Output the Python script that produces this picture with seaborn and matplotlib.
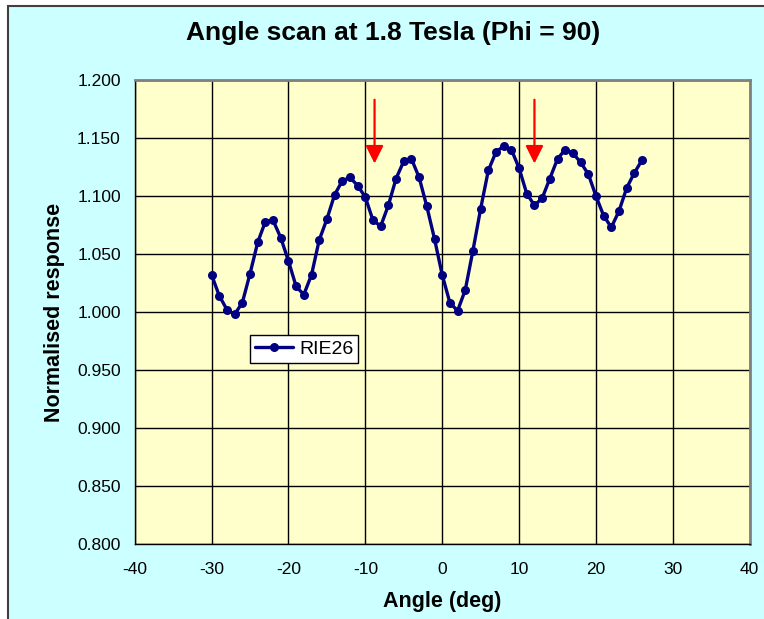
import numpy as np
import pandas as pd
import seaborn as sns
import matplotlib.pyplot as plt
from matplotlib.patches import Rectangle

# Angle scan data
angle = list(range(-30, 27))
response = [1.032, 1.014, 1.002, 0.998, 1.008, 1.033, 1.060, 1.078, 1.079, 1.064,
            1.044, 1.022, 1.015, 1.032, 1.062, 1.080, 1.101, 1.113, 1.116, 1.109,
            1.099, 1.079, 1.074, 1.092, 1.115, 1.130, 1.132, 1.116, 1.091, 1.063,
            1.032, 1.008, 1.001, 1.019, 1.053, 1.089, 1.122, 1.138, 1.143, 1.140,
            1.124, 1.102, 1.092, 1.098, 1.115, 1.132, 1.140, 1.137, 1.129, 1.119,
            1.100, 1.083, 1.073, 1.087, 1.107, 1.120, 1.131]
series_name = "RIE26"

# Red marker arrows (x position, top, tip)
arrow_x = [-8.8, 12.0]
arrow_top = 1.183
arrow_tip = 1.128

df = pd.DataFrame({"Angle": angle, "Response": response, "Series": series_name})

sns.set_style("white")
plt.rcParams['font.family'] = ['Liberation Sans', 'DejaVu Sans']
plt.rcParams['axes.unicode_minus'] = False
plt.rcParams['text.color'] = 'black'
plt.rcParams['axes.labelcolor'] = 'black'
plt.rcParams['xtick.color'] = 'black'
plt.rcParams['ytick.color'] = 'black'

fig = plt.figure(figsize=(7.64, 6.19), dpi=100)
fig.patch.set_facecolor('white')

# Chart area background (cyan panel with dark border on left/top)
bg = Rectangle((7.5 / 764, -0.1), 1.2, 1.0 - 5.5 / 619 + 0.1, transform=fig.transFigure,
               facecolor='#CCFFFF', edgecolor='#404040', linewidth=1.5, zorder=-10)
fig.patches.append(bg)

ax = fig.add_axes([134.7 / 764, 75 / 619, 615 / 764, 464 / 619])
ax.set_facecolor('#FFFFCC')

sns.lineplot(data=df, x="Angle", y="Response", hue="Series", palette=['#000080'],
             marker='o', markersize=6.5, markeredgewidth=0, linewidth=2.4, ax=ax, zorder=3)

for xa in arrow_x:
    ax.annotate('', xy=(xa, arrow_tip), xytext=(xa, arrow_top),
                arrowprops=dict(arrowstyle='-|>,head_length=0.4,head_width=0.2',
                                color='red', lw=1.6, mutation_scale=27,
                                shrinkA=0, shrinkB=0), zorder=4)

ax.set_xlim(-40, 40)
ax.set_ylim(0.8, 1.2)
ax.set_xticks(np.arange(-40, 41, 10))
ax.set_yticks(np.arange(0.8, 1.2001, 0.05))
ax.set_yticklabels([f"{v:.3f}" for v in np.arange(0.8, 1.2001, 0.05)])
ax.grid(True, color='black', linewidth=1)
ax.set_axisbelow(True)
ax.tick_params(axis='both', direction='inout', length=8, width=1, color='black',
               labelsize=12.5)
ax.tick_params(axis='x', pad=9)
ax.tick_params(axis='y', pad=6)

for side in ['left', 'bottom']:
    ax.spines[side].set_color('black')
    ax.spines[side].set_linewidth(1)
for side in ['top', 'right']:
    ax.spines[side].set_color('#808080')
    ax.spines[side].set_linewidth(2)

ax.set_xlabel("Angle (deg)", fontsize=15.5, fontweight='bold', labelpad=10)
ax.set_ylabel("Normalised response", fontsize=15.5, fontweight='bold', labelpad=9)

fig.text(393 / 764, 1 - 33 / 619, "Angle scan at 1.8 Tesla (Phi = 90)", ha='center', va='center',
         fontsize=19, fontweight='bold')

leg = ax.legend(loc='upper left', bbox_to_anchor=(0.187, 0.45), frameon=True, fancybox=False,
                edgecolor='black', facecolor='white', framealpha=1, fontsize=14,
                handlelength=2.0, borderpad=0.25, handletextpad=0.3, borderaxespad=0)
leg.get_frame().set_linewidth(1)

fig.savefig("out.png", dpi=100)
